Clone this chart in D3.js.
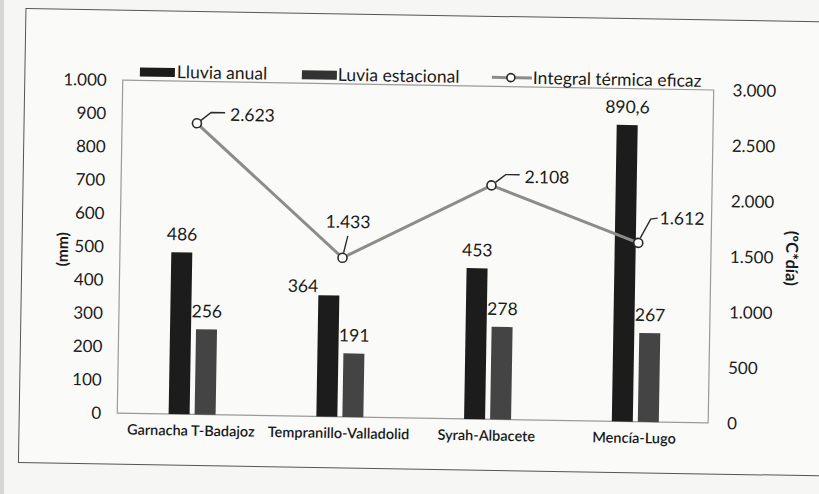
<!DOCTYPE html>
<html>
<head>
<meta charset="utf-8">
<script src="https://cdn.jsdelivr.net/npm/d3@7"></script>
<style>
  body { margin: 0; background: #f6f6f4; }
  svg { font-family: Lato, "Open Sans", sans-serif; }
</style>
</head>
<body>
<div id="chart"></div>
<script>
// datos
const categories = ['Garnacha T-Badajoz', 'Tempranillo-Valladolid', 'Syrah-Albacete', 'Mencía-Lugo'];
const lluviaAnual = [486, 364, 453, 890.6];
const lluviaEstacional = [256, 191, 278, 267];
const integralTermica = [2623, 1433, 2108, 1612];
const labelsAnual = ['486', '364', '453', '890,6'];
const labelsEstacional = ['256', '191', '278', '267'];
const labelsTermica = ['2.623', '1.433', '2.108', '1.612'];
const leftTicks = [0, 100, 200, 300, 400, 500, 600, 700, 800, 900, 1000];
const rightTicks = [0, 500, 1000, 1500, 2000, 2500, 3000];

const width = 819, height = 494;
const fmt = d => d3.format(',')(d).replace(/,/g, '.');
const ink = '#1a1a1a';

let svg = d3.select('#chart').append('svg').attr('width', width).attr('height', height);
// borde gris del escaneo
svg.append('rect').attr('x', 0).attr('y', 0).attr('width', 4).attr('height', height).attr('fill', '#d6d6d4');

// la hoja escaneada esta un poco girada
let root = svg.append('g').attr('transform', 'rotate(0.95,410,250)');

// marco exterior
root.append('rect').attr('x', 22).attr('y', 15).attr('width', 820).attr('height', 454)
  .attr('fill', '#fafaf8').attr('stroke', '#555').attr('stroke-width', 1);

let pLeft = 120, pRight = 711, pTop = 85, pBottom = 418;

let x = d3.scaleBand().domain(categories).range([pLeft, pRight]);
let y = d3.scaleLinear().domain([0, 1000]).range([pBottom, pTop]);
let y2 = d3.scaleLinear().domain([0, 3000]).range([pBottom, pTop]);

// area del grafico
root.append('rect').attr('x', pLeft).attr('y', pTop).attr('width', pRight - pLeft).attr('height', pBottom - pTop)
  .attr('fill', 'none').attr('stroke', '#9a9a9a').attr('stroke-width', 1.2);

let yAxis = d3.axisLeft(y).tickValues(leftTicks).tickFormat(fmt).tickSize(0).tickPadding(16);
let g1 = root.append('g').attr('transform', 'translate(' + pLeft + ',0)').call(yAxis);
let y2Axis = d3.axisRight(y2).tickValues(rightTicks).tickFormat(fmt).tickSize(0).tickPadding(19);
let g2 = root.append('g').attr('transform', 'translate(' + pRight + ',0)').call(y2Axis);
let xAxis = d3.axisBottom(x).tickSize(0).tickPadding(11);
let g3 = root.append('g').attr('transform', 'translate(0,' + pBottom + ')').call(xAxis);
[g1, g2, g3].forEach(g => { g.select('.domain').remove(); });
g1.selectAll('text').attr('font-size', 17).attr('fill', ink).attr('font-family', 'Lato, sans-serif');
g2.selectAll('text').attr('font-size', 17).attr('fill', ink).attr('font-family', 'Lato, sans-serif');
g3.selectAll('text').attr('font-size', 14.5).attr('font-weight', 600).attr('fill', ink).attr('font-family', 'Lato, sans-serif');

// titulos de ejes
root.append('text').attr('transform', 'translate(68,255) rotate(-90)').attr('text-anchor', 'middle')
  .attr('font-size', 15.5).attr('font-weight', 700).attr('fill', ink).text('(mm)');
root.append('text').attr('transform', 'translate(786,252) rotate(90)').attr('text-anchor', 'middle')
  .attr('font-size', 16.5).attr('font-weight', 700).attr('fill', ink).text('(ºC*día)');

// barras
let barW = 21, gap = 5;
let xAnual = i => x(categories[i]) + x.bandwidth() / 2 + 1 - gap / 2 - barW;
let xEst = i => x(categories[i]) + x.bandwidth() / 2 + 1 + gap / 2;
root.selectAll('rect.anual').data(lluviaAnual).enter().append('rect').attr('class', 'anual')
  .attr('x', (d, i) => xAnual(i))
  .attr('y', d => y(d)).attr('width', barW).attr('height', d => pBottom - y(d)).attr('fill', '#1c1c1c');
root.selectAll('rect.estacional').data(lluviaEstacional).enter().append('rect').attr('class', 'estacional')
  .attr('x', (d, i) => xEst(i))
  .attr('y', d => y(d)).attr('width', barW).attr('height', d => pBottom - y(d)).attr('fill', '#444');

// etiquetas de barras (la de 364 esta desplazada a la izquierda)
root.selectAll('text.lanual').data(lluviaAnual).enter().append('text').attr('class', 'lanual')
  .attr('x', (d, i) => xAnual(i) + barW / 2 + (i == 1 ? -26 : 0))
  .attr('y', (d, i) => y(d) - (i == 1 ? 3 : 12)).attr('text-anchor', 'middle').attr('font-size', 17.5).attr('fill', ink)
  .text((d, i) => labelsAnual[i]);
root.selectAll('text.lestacional').data(lluviaEstacional).enter().append('text').attr('class', 'lestacional')
  .attr('x', (d, i) => xEst(i) + barW / 2)
  .attr('y', d => y(d) - 12).attr('text-anchor', 'middle').attr('font-size', 17.5).attr('fill', ink)
  .text((d, i) => labelsEstacional[i]);

// linea integral termica
let cx = (d, i) => x(categories[i]) + x.bandwidth() / 2 + 1;
let line = d3.line().x(cx).y(d => y2(d));
root.append('path').attr('d', line(integralTermica)).attr('fill', 'none')
  .attr('stroke', '#8c8c8c').attr('stroke-width', 3);

// etiquetas con linea guia
integralTermica.forEach((d, i) => {
  let px = cx(d, i), py = y2(d);
  let guide, tx, ty, anchor = 'start';
  if (i == 1) {
    guide = [[px + 1, py - 5], [px + 5, py - 22]];
    tx = px + 5; ty = py - 30; anchor = 'middle';
  } else if (i == 3) {
    guide = [[px + 2, py - 5], [px + 12, py - 24], [px + 19, py - 25]];
    tx = px + 21; ty = py - 19;
  } else {
    guide = [[px + 4, py - 3], [px + 14, py - 11], [px + 28, py - 11]];
    tx = px + 33; ty = py - 3;
  }
  root.append('path').attr('d', d3.line()(guide))
    .attr('stroke', '#2a2a2a').attr('stroke-width', 1.4).attr('fill', 'none');
  root.append('text').attr('x', tx).attr('y', ty).attr('text-anchor', anchor)
    .attr('font-size', 17.5).attr('fill', ink).text(labelsTermica[i]);
});

root.selectAll('circle.punto').data(integralTermica).enter().append('circle').attr('class', 'punto')
  .attr('cx', cx).attr('cy', d => y2(d)).attr('r', 4.5)
  .attr('fill', '#fff').attr('stroke', '#2a2a2a').attr('stroke-width', 1.6);

// leyenda
let leg = root.append('g');
leg.append('rect').attr('x', 137).attr('y', 72).attr('width', 35).attr('height', 9).attr('fill', '#1c1c1c');
leg.append('text').attr('x', 174).attr('y', 82).attr('font-size', 17.5).attr('fill', ink).text('Lluvia anual');
leg.append('rect').attr('x', 299).attr('y', 72).attr('width', 35).attr('height', 9).attr('fill', '#333');
leg.append('text').attr('x', 335).attr('y', 82).attr('font-size', 17.5).attr('fill', ink).text('Luvia estacional');
leg.append('line').attr('x1', 489).attr('x2', 529).attr('y1', 76).attr('y2', 76).attr('stroke', '#8c8c8c').attr('stroke-width', 3);
leg.append('circle').attr('cx', 508).attr('cy', 76).attr('r', 4).attr('fill', '#fff').attr('stroke', '#2a2a2a').attr('stroke-width', 1.6);
leg.append('text').attr('x', 530).attr('y', 82).attr('font-size', 17.5).attr('fill', ink).text('Integral térmica eficaz');
</script>
</body>
</html>
